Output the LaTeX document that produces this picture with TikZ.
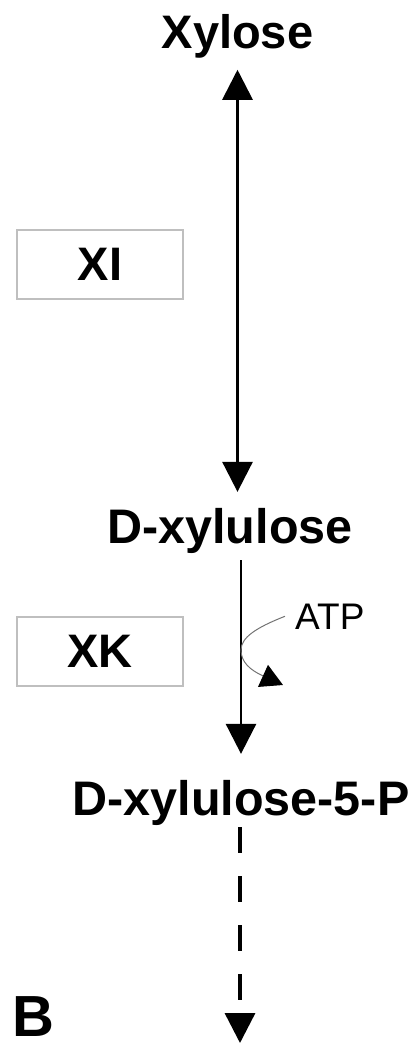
\documentclass[tikz,border=0pt]{standalone}
\usepackage{fontspec}
\setmainfont{Liberation Sans}
\usetikzlibrary{arrows.meta}
\tikzset{
  metab/.style={inner sep=0pt, outer sep=0pt, anchor=base, font=\fontsize{47}{52}\selectfont\bfseries},
  enzbox/.style={draw=black!25, line width=1.6pt, minimum width=166pt, minimum height=69pt, inner sep=0pt, font=\fontsize{47}{52}\selectfont\bfseries},
  mainarrow/.style={line width=2.8pt, -{Triangle[width=30pt,length=30pt]}},
  bothmain/.style={line width=2.8pt, {Triangle[width=30pt,length=30pt]}-{Triangle[width=30pt,length=30pt]}},
  sidecurve/.style={draw=black!55, line width=1pt, -{Triangle[width=24pt,length=22pt,color=black,fill=black]}},
}
\begin{document}
\begin{tikzpicture}[x=1pt,y=1pt]
\useasboundingbox (0,0) rectangle (416,-1050);
\node[metab] (xyl) at (237.5,-48) {Xylose};
\node[metab, font=\fontsize{48.5}{54}\selectfont\bfseries] (dxyl) at (230,-543) {D-xylulose};
\node[metab, font=\fontsize{48.5}{54}\selectfont\bfseries] (x5p) at (241,-815) {D-xylulose-5-P};
\node[enzbox] (xi) at (100,-264.5) {XI};
\node[enzbox] (xk) at (100,-651.5) {XK};
\node[inner sep=0pt, anchor=base west, font=\fontsize{37}{42}\selectfont] (atp) at (295,-629) {ATP};
\node[inner sep=0pt, anchor=base west, font=\fontsize{58}{64}\selectfont\bfseries] (lab) at (12,-1036) {B};
\coordinate (atpend) at (283,-685);
\coordinate (endc) at (240,-1043);
\draw[bothmain, shorten <=12pt, shorten >=16pt] (xyl.south) -- (xyl.south |- dxyl.north);
\draw[mainarrow, shorten <=7pt, shorten >=26pt] (x5p.north |- dxyl.south) -- (x5p.north);
\draw[mainarrow, line width=3.4pt, dash pattern=on 26pt off 23pt, shorten <=2pt] (x5p.south -| endc) -- (endc);
\draw[sidecurve] ([xshift=-10pt]atp.west) .. controls (255,-628) and (241,-638) .. (241,-650)
   .. controls (241,-662) and (250,-670) .. (atpend);
\end{tikzpicture}
\end{document}
